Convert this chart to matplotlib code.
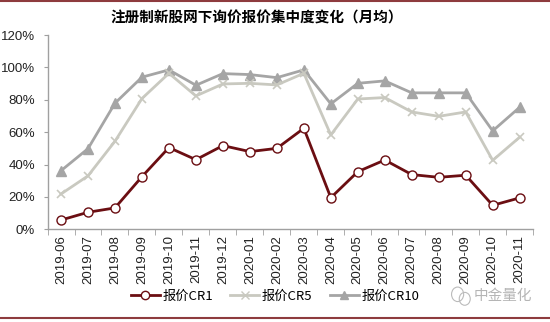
import matplotlib
matplotlib.use("Agg")
import matplotlib.pyplot as plt
from matplotlib.lines import Line2D
from matplotlib.patches import Ellipse
from matplotlib.ticker import FixedLocator, PercentFormatter

plt.rcParams["font.family"] = ["Liberation Sans", "Noto Sans CJK SC", "DejaVu Sans"]

months = [
    "2019-06", "2019-07", "2019-08", "2019-09", "2019-10", "2019-11",
    "2019-12", "2020-01", "2020-02", "2020-03", "2020-04", "2020-05",
    "2020-06", "2020-07", "2020-08", "2020-09", "2020-10", "2020-11",
]
cr1 = [5.7, 10.5, 13.2, 32.5, 50.5, 43.0, 51.7, 48.0, 50.0,
       62.4, 19.5, 35.6, 42.8, 33.8, 32.1, 33.4, 14.8, 19.4]
cr5 = [21.8, 33.0, 54.4, 80.8, 96.4, 82.4, 89.8, 90.2, 89.2,
       96.4, 58.3, 80.5, 81.4, 72.5, 69.8, 72.5, 42.6, 56.9]
cr10 = [36.2, 49.8, 77.9, 94.0, 98.5, 89.0, 96.2, 95.6, 93.7,
        98.5, 77.5, 90.2, 91.7, 84.3, 84.3, 84.3, 60.8, 75.4]

series_names = ["报价CR1", "报价CR5", "报价CR10"]
title = "注册制新股网下询价报价集中度变化（月均）"
watermark = "中金量化"

RED = "#6B0E12"
LIGHT = "#C9C9C0"
GREY = "#A5A5A5"
FRAME = "#8E3B3E"
CJK = ["Noto Sans CJK SC", "DejaVu Sans"]

fig = plt.figure(figsize=(5.5, 3.22), dpi=100)
ax = fig.add_axes([0.0864, 0.288, 0.883, 0.603])

x = list(range(len(months)))
ax.plot(x, cr10, color=GREY, lw=2, marker="^", ms=6.5, mfc=GREY, mec=GREY, zorder=2)
ax.plot(x, cr5, color=LIGHT, lw=2, marker="x", ms=6, mew=1.2, mec=LIGHT, zorder=3)
ax.plot(x, cr1, color=RED, lw=2, marker="o", ms=6.5, mfc="white", mec=RED, mew=1, zorder=4)

ax.set_xlim(-0.5, len(months) - 0.5)
ax.set_ylim(0, 120)
ax.set_yticks(range(0, 121, 20))
ax.yaxis.set_major_formatter(PercentFormatter(decimals=0))
ax.set_xticks(x)
ax.set_xticklabels(months, rotation=90, fontsize=9.5)
ax.xaxis.set_minor_locator(FixedLocator([i - 0.5 for i in range(len(months) + 1)]))
ax.tick_params(axis="x", which="major", length=0, pad=4, labelcolor="#222222")
ax.tick_params(axis="x", which="minor", length=4, color="#A0A0A0", direction="out")
ax.tick_params(axis="y", length=3, color="#A0A0A0", labelsize=9.5, labelcolor="#222222", pad=6)

for side in ("top", "right"):
    ax.spines[side].set_visible(False)
for side in ("left", "bottom"):
    ax.spines[side].set_color("#A0A0A0")
    ax.spines[side].set_linewidth(1)

fig.text(0.467, 0.945, title, ha="center", va="center", fontsize=10.5,
         fontweight="bold", family=CJK)

handles = [
    Line2D([], [], color=RED, lw=2, marker="o", ms=6, mfc="white", mec=RED),
    Line2D([], [], color=LIGHT, lw=2, marker="x", ms=6, mec=LIGHT),
    Line2D([], [], color=GREY, lw=2, marker="^", ms=6, mfc=GREY, mec=GREY),
]
fig.legend(handles, series_names, loc="center", bbox_to_anchor=(0.5, 0.081),
           ncol=3, frameon=False, handlelength=2.2, handletextpad=0.2,
           columnspacing=1.3, prop={"family": CJK, "size": 9.5})

fig.text(0.915, 0.081, watermark, ha="center", va="center", fontsize=10.5,
         color="#B5B5B5", family=CJK)
fig.add_artist(Ellipse((0.832, 0.086), 0.022, 0.045, fill=False, ec="#BBBBBB",
                       lw=0.8, transform=fig.transFigure))
fig.add_artist(Ellipse((0.845, 0.072), 0.02, 0.04, fill=False, ec="#BBBBBB",
                       lw=0.8, transform=fig.transFigure))

fig.add_artist(Line2D([0, 1], [0.997, 0.997], color=FRAME, lw=1.5, transform=fig.transFigure))
fig.add_artist(Line2D([0, 1], [0.013, 0.013], color=FRAME, lw=1.5, transform=fig.transFigure))

fig.savefig("out.png", dpi=100)
